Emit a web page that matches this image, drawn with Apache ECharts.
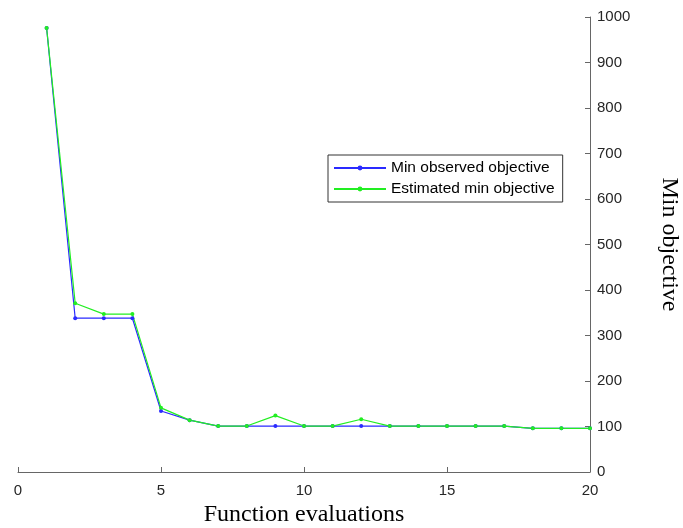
<!DOCTYPE html>
<html><head><meta charset="utf-8">
<script src="https://cdn.jsdelivr.net/npm/echarts@6/dist/echarts.min.js"></script>
<style>html,body{margin:0;padding:0;background:#fff}#c{width:683px;height:528px}</style>
</head><body><div id="c"></div>
<script>
const evals = [1,2,3,4,5,6,7,8,9,10,11,12,13,14,15,16,17,18,19,20];
const minObserved = [976,338,338,338,134,114,101,101,101,101,101,101,101,101,101,101,101,96,96,96];
const estimatedMin = [976,371,347,347,141,114,101,101,124,101,101,116,101,101,101,101,101,96,96,96];
const xTicks = [0,5,10,15,20];
const yTicks = [0,100,200,300,400,500,600,700,800,900,1000];

const chart = echarts.init(document.getElementById('c'), null, {renderer:'canvas'});
const axisColor = '#666';
const labelColor = '#262626';
chart.setOption({
  animation:false,
  backgroundColor:'#fff',
  grid:{left:18,right:93,top:17,bottom:56,containLabel:false,outerBoundsMode:'none'},
  legend:{
    orient:'vertical', left:328, top:155,
    backgroundColor:'#fff', borderColor:'#333', borderWidth:1,
    padding:[5,8,5,5], itemGap:5, itemWidth:52, itemHeight:6,
    textStyle:{fontFamily:'Liberation Sans', fontSize:15.5, color:'#000'},
    data:['Min observed objective','Estimated min objective']
  },
  xAxis:{
    type:'value', min:xTicks[0], max:xTicks[xTicks.length-1], interval:5,
    name:'Function evaluations', nameLocation:'middle', nameGap:29,
    nameTextStyle:{fontFamily:'Liberation Serif', fontSize:24, color:'#000'},
    axisLine:{show:true, onZero:false, lineStyle:{color:axisColor}},
    axisTick:{show:true, inside:true, length:5, lineStyle:{color:axisColor}},
    axisLabel:{fontFamily:'Liberation Sans', fontSize:15, color:labelColor, margin:11},
    splitLine:{show:false}
  },
  yAxis:{
    type:'value', position:'right', min:yTicks[0], max:yTicks[yTicks.length-1], interval:100,
    name:'Min objective', nameLocation:'middle', nameGap:67, nameRotate:-90,
    nameTextStyle:{fontFamily:'Liberation Serif', fontSize:24, color:'#000'},
    axisLine:{show:true, onZero:false, lineStyle:{color:axisColor}},
    axisTick:{show:true, inside:true, length:5, lineStyle:{color:axisColor}},
    axisLabel:{fontFamily:'Liberation Sans', fontSize:15, color:labelColor, margin:7,
      formatter:v=>String(v)},
    splitLine:{show:false}
  },
  series:[
    {name:'Min observed objective', type:'line', data:evals.map((x,i)=>[x,minObserved[i]]),
     symbol:'circle', symbolSize:4, showAllSymbol:true,
     lineStyle:{color:'#2a2aff', width:1.2}, itemStyle:{color:'#2a2aff'}},
    {name:'Estimated min objective', type:'line', data:evals.map((x,i)=>[x,estimatedMin[i]]),
     symbol:'circle', symbolSize:4, showAllSymbol:true,
     lineStyle:{color:'#22ee22', width:1.2}, itemStyle:{color:'#22ee22'}}
  ]
});
</script></body></html>
